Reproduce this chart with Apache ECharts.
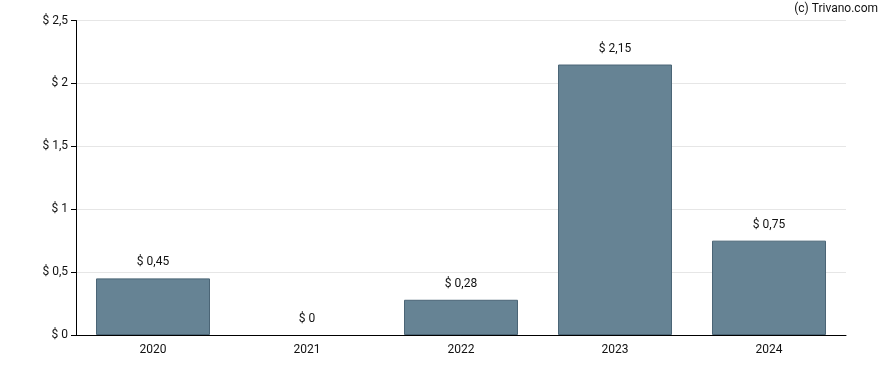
<!DOCTYPE html>
<html><head><meta charset="utf-8">
<script src="https://cdn.jsdelivr.net/npm/echarts@6/dist/echarts.min.js"></script>
<style>html,body{margin:0;padding:0;background:#fff}#c{width:888px;height:370px}</style>
</head><body><div id="c"></div>
<script>
const categories = ['2020','2021','2022','2023','2024'];
const values = [0.45, 0, 0.28, 2.15, 0.75];
const yMin = 0, yMax = 2.5, yStep = 0.5;
const fmt = v => '$ ' + String(v).replace('.', ',');
const chart = echarts.init(document.getElementById('c'), null, {renderer:'canvas'});
chart.setOption({
  animation:false,
  textStyle:{fontFamily:'Roboto'},
  graphic:[{type:'text', right:10, top:3, style:{text:'(c) Trivano.com', font:'12px Roboto', fill:'#111'}}],
  grid:{left:76, right:42, top:20.5, bottom:35, containLabel:false},
  xAxis:{type:'category', data:categories,
    axisLine:{lineStyle:{color:'#000', width:1}},
    axisTick:{alignWithLabel:true, length:4, lineStyle:{color:'#000'}},
    axisLabel:{color:'#111', fontSize:12, fontFamily:'Roboto', margin:9}},
  yAxis:{type:'value', min:yMin, max:yMax, interval:yStep,
    axisLine:{show:true, lineStyle:{color:'#000', width:1}},
    axisTick:{show:true, length:5, lineStyle:{color:'#000'}},
    axisLabel:{color:'#111', fontSize:12, fontFamily:'Roboto', margin:8, formatter:fmt},
    splitLine:{lineStyle:{color:'#e6e6e6'}}},
  series:[{type:'bar', barWidth:114,
    data:values.map(v => ({value:v, itemStyle:{borderWidth: v === 0 ? 0 : 1}})),
    itemStyle:{color:'#668394', borderColor:'#4b6576', borderWidth:1},
    label:{show:true, position:'top', distance:10, color:'#111', fontSize:12, fontFamily:'Roboto', formatter:p=>fmt(p.value)}}]
});
</script></body></html>
